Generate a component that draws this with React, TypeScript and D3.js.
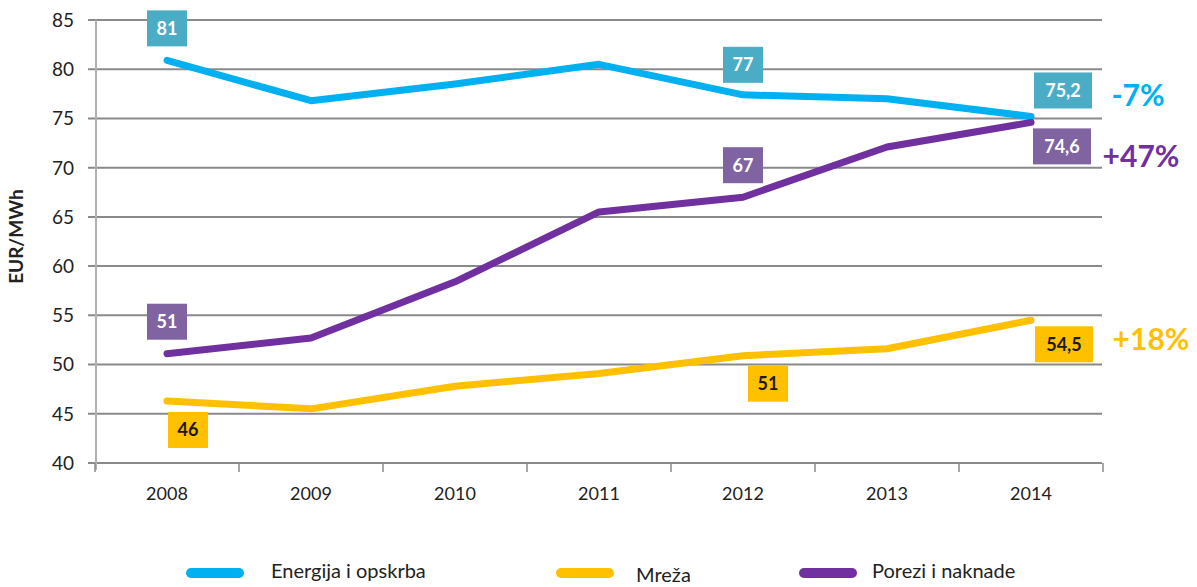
import * as d3 from "d3";

const years = ["2008", "2009", "2010", "2011", "2012", "2013", "2014"];
const energija = [80.9, 76.8, 78.5, 80.5, 77.4, 77.0, 75.2];
const mreza = [46.3, 45.5, 47.8, 49.1, 50.9, 51.6, 54.5];
const porezi = [51.1, 52.7, 58.4, 65.5, 67.0, 72.1, 74.6];
const yTicks = [40, 45, 50, 55, 60, 65, 70, 75, 80, 85];

// label boxes: [series index, year index, text, dx, dy]
const labels: [number, number, string, number, number][] = [
  [0, 0, "81", 0, -32],
  [0, 4, "77", 0, -30],
  [0, 6, "75,2", 32, -26],
  [2, 4, "67", 0, -32],
  [2, 6, "74,6", 31, 24],
  [2, 0, "51", 0, -32],
  [1, 0, "46", 21, 29],
  [1, 4, "51", 25, 28],
  [1, 6, "54,5", 33, 24],
];
const changes = ["-7%", "+18%", "+47%"];

const W = 1197;
const H = 587;
const font = "Lato, 'Open Sans', sans-serif";

const series = [
  { name: "Energija i opskrba", values: energija, line: "#00b0f0", box: "#4bacc6", text: "#fff" },
  { name: "Mreža", values: mreza, line: "#ffc000", box: "#ffc000", text: "#1a1a1a" },
  { name: "Porezi i naknade", values: porezi, line: "#7030a0", box: "#8064a2", text: "#fff" },
];

export default function App() {
  const x = d3.scaleBand<string>().domain(years).range([95, 1103]);
  const y = d3.scaleLinear().domain([40, 85]).range([463, 20]);
  const cx = (i: number) => (x(years[i]) ?? 0) + x.bandwidth() / 2;
  const line = d3
    .line<number>()
    .x((_, i) => cx(i))
    .y((d) => y(d));

  const pctPos = [
    { x: 1138, y: y(77.3) },
    { x: 1151, y: y(52.5) },
    { x: 1141, y: y(71.1) },
  ];
  const legendX = [[186, 271], [556, 636], [799, 872]];

  return (
    <svg width={W} height={H} style={{ position: "absolute", left: 0, top: 0 }} fontFamily={font}>
      <rect width={W} height={H} fill="#fff" />
      {yTicks.map((t) => (
        <g key={t}>
          <line x1={88} x2={1102} y1={y(t)} y2={y(t)} stroke="#8a8a8a" strokeWidth={2} />
          <text x={74} y={y(t)} dy="0.36em" textAnchor="end" fontSize={19} fill="#222">
            {t}
          </text>
        </g>
      ))}
      <line x1={96} x2={96} y1={20} y2={470} stroke="#b0b0b0" strokeWidth={2} />
      {[...years.map((yr) => x(yr) ?? 0), 1103].map((px, i) => (
        <line key={i} x1={px} x2={px} y1={463} y2={472} stroke="#8a8a8a" strokeWidth={1.5} />
      ))}
      {years.map((yr, i) => (
        <text key={yr} x={cx(i)} y={500} textAnchor="middle" fontSize={18} fill="#222">
          {yr}
        </text>
      ))}
      <text
        transform={`translate(23,${y(63)}) rotate(-90)`}
        textAnchor="middle"
        fontSize={19}
        fontWeight="bold"
        fill="#222"
      >
        EUR/MWh
      </text>
      {series.map((s) => (
        <path
          key={s.name}
          d={line(s.values) ?? ""}
          fill="none"
          stroke={s.line}
          strokeWidth={7}
          strokeLinecap="round"
          strokeLinejoin="round"
        />
      ))}
      {labels.map(([si, yi, txt, dx, dy], k) => {
        const s = series[si];
        const w = txt.length > 2 ? 58 : 40;
        const bx = cx(yi) + dx;
        const by = y(s.values[yi]) + dy;
        return (
          <g key={k}>
            <rect x={bx - w / 2} y={by - 18} width={w} height={36} fill={s.box} />
            <text x={bx} y={by} dy="0.36em" textAnchor="middle" fontSize={18} fontWeight="bold" fill={s.text}>
              {txt}
            </text>
          </g>
        );
      })}
      {series.map((s, i) => (
        <text
          key={s.name}
          x={pctPos[i].x}
          y={pctPos[i].y}
          dy="0.35em"
          textAnchor="middle"
          fontSize={30}
          fontWeight="bold"
          fill={s.line}
        >
          {changes[i]}
        </text>
      ))}
      {series.map((s, i) => (
        <g key={s.name}>
          <line
            x1={legendX[i][0] + 5}
            x2={legendX[i][0] + 53}
            y1={573}
            y2={573}
            stroke={s.line}
            strokeWidth={10}
            strokeLinecap="round"
          />
          <text x={legendX[i][1]} y={i === 1 ? 575 : 571} dy="0.35em" fontSize={20} fill="#222">
            {s.name}
          </text>
        </g>
      ))}
    </svg>
  );
}
